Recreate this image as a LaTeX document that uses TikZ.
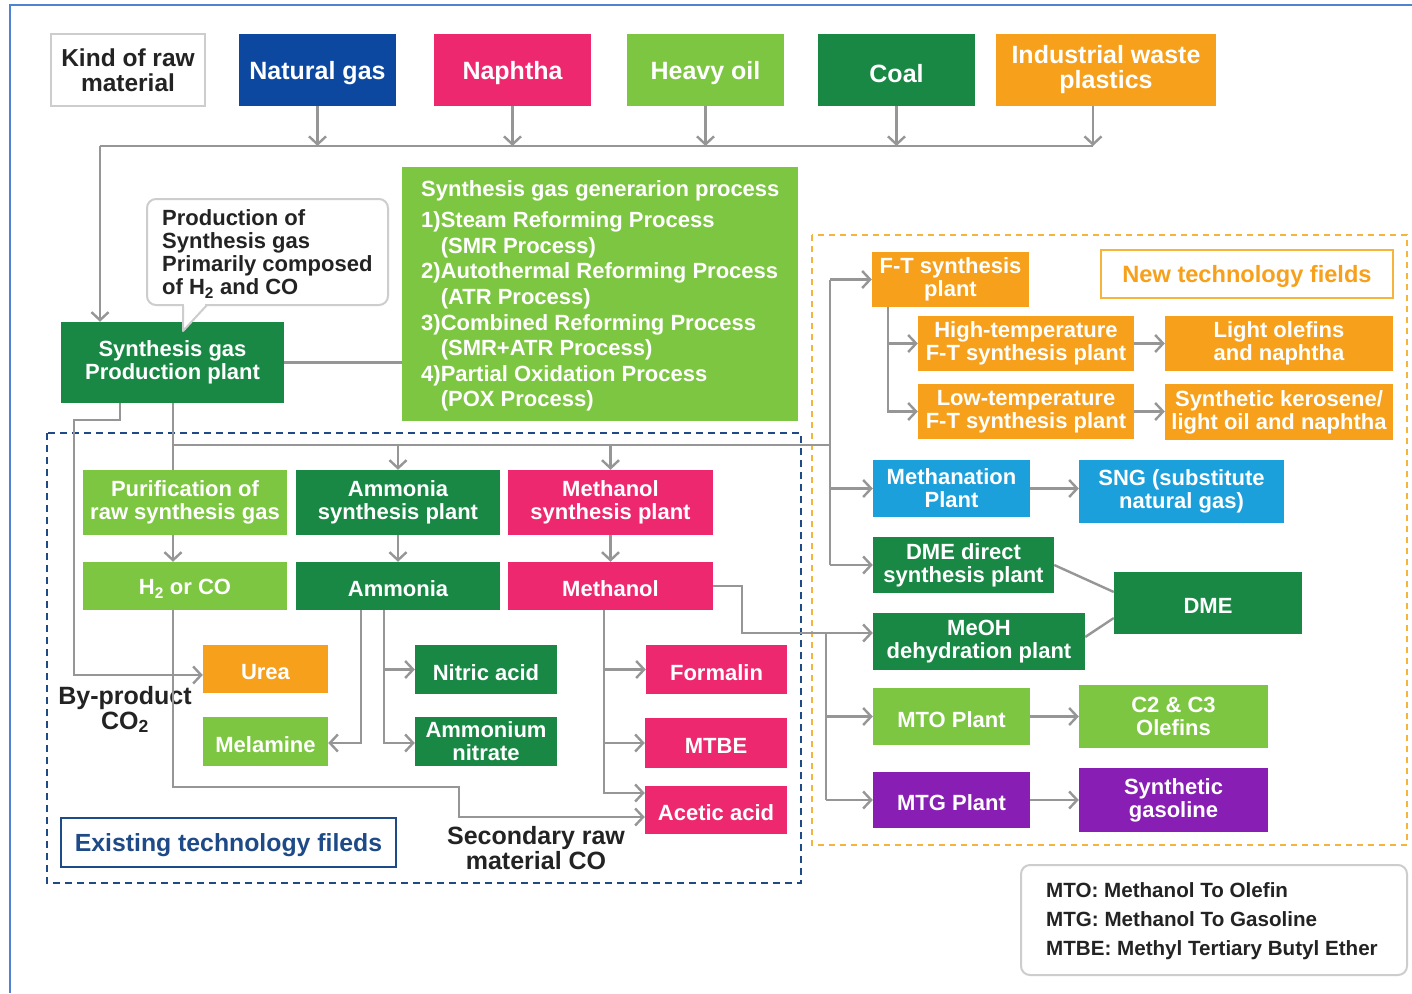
\documentclass[tikz,border=0pt]{standalone}
\usepackage{fontspec}
\setmainfont{Liberation Sans}
\usetikzlibrary{arrows.meta,calc}
\definecolor{cNavy}{RGB}{12,72,160}
\definecolor{cPink}{RGB}{238,40,110}
\definecolor{cLG}{RGB}{125,198,66}
\definecolor{cDG}{RGB}{24,136,68}
\definecolor{cOr}{RGB}{246,160,28}
\definecolor{cCy}{RGB}{28,160,220}
\definecolor{cPu}{RGB}{136,30,180}
\definecolor{cLine}{RGB}{150,150,150}
\definecolor{cFrame}{RGB}{80,130,210}
\definecolor{cExist}{RGB}{30,75,135}
\definecolor{cNewBd}{RGB}{245,180,60}
\definecolor{cText}{RGB}{35,35,35}
\definecolor{cBorder}{RGB}{205,205,205}
\begin{document}
\begin{tikzpicture}[x=1pt,y=-1pt,
  bx/.style={rectangle, fill=#1, inner sep=0pt, align=center, text=white,
    font=\fontsize{22}{23}\selectfont\bfseries, execute at begin node={\rule{0pt}{21.5pt}}},
  topbx/.style={bx=#1, minimum height=72pt, font=\fontsize{25}{25}\selectfont\bfseries,
    execute at begin node={\rule{0pt}{25pt}}},
  conn/.style={draw=cLine, line width=2.4pt},
  arr/.style={conn, -{Straight Barb[length=8pt,width=17pt]}},
  plain/.style={inner sep=0pt, align=center, text=cText, font=\fontsize{25}{25}\selectfont\bfseries}]
\useasboundingbox (0,0) rectangle (1412,993);
\fill[white] (0,0) rectangle (1412,993);
\draw[cFrame, line width=2pt] (10,993) -- (10,5) -- (1412,5);

% regions
\draw[cExist, line width=2.4pt, dash pattern=on 7pt off 5pt] (47,433) rectangle (801,883);
\draw[cNewBd, line width=2pt, dash pattern=on 6pt off 5pt] (812,235) rectangle (1407,845);

% top row
\node[rectangle, draw=cBorder, line width=2pt, fill=white, minimum width=154pt, minimum height=72pt,
  align=center, text=cText, font=\fontsize{24.5}{25}\selectfont\bfseries,
  execute at begin node={\rule{0pt}{24pt}}] (kind) at (128,70) {Kind of raw\\material};
\node[topbx=cNavy, minimum width=157pt] (ng) at (317.5,70) {Natural gas};
\node[topbx=cPink, minimum width=157pt] (nap) at (512.5,70) {Naphtha};
\node[topbx=cLG, minimum width=157pt] (ho) at (705.5,70) {Heavy oil};
\node[topbx=cDG, minimum width=157pt] (coal) at (896.5,70) {Coal};
\node[topbx=cOr, minimum width=220pt] (iwp) at (1106,70) {Industrial waste\\plastics};

% synthesis gas plant, callout, process
\node[bx=cDG, minimum width=223pt, minimum height=81pt] (sgp) at (172.5,362.5) {Synthesis gas\\Production plant};
\node[rectangle, rounded corners=9pt, draw=cBorder, line width=2pt, fill=white,
  minimum width=241pt, minimum height=106pt] (call) at (267.5,252) {};
\filldraw[draw=cBorder, fill=white, line width=2pt, line join=round] (183,305) -- (183,331) -- (207,305);
\draw[white, line width=2.6pt] (184.3,305) -- (205,305);
\node[anchor=west, align=left, inner sep=0pt, text=cText, font=\fontsize{22}{23}\selectfont\bfseries]
  (calltext) at (162,254) {Production of\\Synthesis gas\\Primarily composed\\of H\textsubscript{2} and CO};
\node[rectangle, fill=cLG, minimum width=396pt, minimum height=254pt, inner sep=0pt] (proc) at (600,294) {};
\node[anchor=north west, align=left, inner sep=0pt, text=white, font=\fontsize{22}{25.6}\selectfont\bfseries]
  (proctext) at (421,180) {Synthesis gas generarion process\\[6pt]
  1)Steam Reforming Process\\\hphantom{1)}(SMR Process)\\
  2)Autothermal Reforming Process\\\hphantom{2)}(ATR Process)\\
  3)Combined Reforming Process\\\hphantom{3)}(SMR+ATR Process)\\
  4)Partial Oxidation Process\\\hphantom{4)}(POX Process)};

% existing technology boxes
\node[bx=cLG, minimum width=204pt, minimum height=65pt] (purif) at (185,502.5) {Purification of\\raw synthesis gas};
\node[bx=cDG, minimum width=204pt, minimum height=65pt] (amsp) at (398,502.5) {Ammonia\\synthesis plant};
\node[bx=cPink, minimum width=205pt, minimum height=65pt] (mesp) at (610.5,502.5) {Methanol\\synthesis plant};
\node[bx=cLG, minimum width=204pt, minimum height=48pt] (h2co) at (185,586) {H\textsubscript{2} or CO};
\node[bx=cDG, minimum width=204pt, minimum height=48pt] (amm) at (398,586) {Ammonia};
\node[bx=cPink, minimum width=205pt, minimum height=48pt] (meoh) at (610.5,586) {Methanol};
\node[bx=cOr, minimum width=125pt, minimum height=48pt] (urea) at (265.5,669) {Urea};
\node[bx=cDG, minimum width=142pt, minimum height=49pt] (nitric) at (486,669.5) {Nitric acid};
\node[bx=cPink, minimum width=141pt, minimum height=49pt] (formalin) at (716.5,669.5) {Formalin};
\node[bx=cLG, minimum width=125pt, minimum height=49pt] (melamine) at (265.5,741.5) {Melamine};
\node[bx=cDG, minimum width=142pt, minimum height=49pt] (an) at (486,741.5) {Ammonium\\nitrate};
\node[bx=cPink, minimum width=142pt, minimum height=50pt] (mtbe) at (716,743) {MTBE};
\node[bx=cPink, minimum width=142pt, minimum height=48pt] (acetic) at (716,810) {Acetic acid};
\node[rectangle, draw=cExist, line width=2.4pt, fill=white, minimum width=335pt, minimum height=49pt,
  text=cExist, font=\fontsize{24.8}{25}\selectfont\bfseries,
  execute at begin node={\rule{0pt}{23pt}}] (exist) at (228.5,842.5) {Existing technology fileds};
\node[plain] (byp) at (125,709.5) {By-product\\CO\textsubscript{2}};
\node[plain] (sec) at (536,848) {Secondary raw\\material CO};

% new technology boxes
\node[bx=cOr, minimum width=157pt, minimum height=55pt] (ft) at (950.5,279.5) {F-T synthesis\\plant};
\node[rectangle, draw=cNewBd, line width=2pt, fill=white, minimum width=292pt, minimum height=48pt,
  text=cOr, font=\fontsize{23.6}{25}\selectfont\bfseries,
  execute at begin node={\rule{0pt}{22.5pt}}] (newlab) at (1247,274) {New technology fields};
\node[bx=cOr, minimum width=216pt, minimum height=55pt] (ht) at (1026,343.5) {High-temperature\\F-T synthesis plant};
\node[bx=cOr, minimum width=228pt, minimum height=55pt] (lo) at (1279,343.5) {Light olefins\\and naphtha};
\node[bx=cOr, minimum width=216pt, minimum height=55pt] (lt) at (1026,411.5) {Low-temperature\\F-T synthesis plant};
\node[bx=cOr, minimum width=228pt, minimum height=56pt] (sk) at (1279,412) {Synthetic kerosene/\\light oil and naphtha};
\node[bx=cCy, minimum width=157pt, minimum height=57pt] (meth) at (951.5,488.5) {Methanation\\Plant};
\node[bx=cCy, minimum width=205pt, minimum height=63pt] (sng) at (1181.5,491.5) {SNG (substitute\\natural gas)};
\node[bx=cDG, minimum width=181pt, minimum height=56pt] (dmed) at (963.5,565) {DME direct\\synthesis plant};
\node[bx=cDG, minimum width=188pt, minimum height=62pt] (dme) at (1208,603) {DME};
\node[bx=cDG, minimum width=212pt, minimum height=57pt] (mdh) at (979,641.5) {MeOH\\dehydration plant};
\node[bx=cLG, minimum width=157pt, minimum height=57pt] (mto) at (951.5,716.5) {MTO Plant};
\node[bx=cLG, minimum width=189pt, minimum height=63pt] (c2c3) at (1173.5,716.5) {C2 \& C3\\Olefins};
\node[bx=cPu, minimum width=157pt, minimum height=56pt] (mtg) at (951.5,800) {MTG Plant};
\node[bx=cPu, minimum width=189pt, minimum height=64pt] (sg) at (1173.5,800) {Synthetic\\gasoline};

% legend
\node[rectangle, rounded corners=9pt, draw=cBorder, line width=2pt, fill=white,
  minimum width=386pt, minimum height=110pt] (legend) at (1214,920) {};
\node[anchor=west, align=left, inner sep=0pt, text=cText, font=\fontsize{20.6}{29}\selectfont\bfseries]
  (legtext) at (1046,921) {MTO: Methanol To Olefin\\MTG: Methanol To Gasoline\\MTBE: Methyl Tertiary Butyl Ether};

% connectors: raw materials bus
\coordinate (bL) at (100,146);
\coordinate (bR) at (1093,146);
\draw[conn] (bL) -- (bR);
\draw[arr] (bL) -- (bL |- sgp.north);
\foreach \n in {ng,nap,ho,coal} \draw[arr] (\n.south) -- (\n.south |- bL);
\draw[arr] (iwp.south -| bR) -- (bR);
\draw[conn] (sgp.east) -- (proc.west |- sgp.east);

% left side
\coordinate (a120) at (120,420);
\coordinate (a74) at (74,420);
\draw[arr] (sgp.south -| a120) -- (a120) -- (a74) -- ($(a74 |- urea.west)+(0,6)$) -- ($(urea.west)+(0,6)$);
\coordinate (x173) at (173,445);
\coordinate (x830) at (830,445);
\draw[conn] (sgp.south -| x173) -- (purif.north -| x173);
\draw[conn] (x173) -- (x830);
\draw[arr] (amsp.north |- x173) -- (amsp.north);
\draw[arr] (mesp.north |- x173) -- (mesp.north);
\draw[arr] (purif.south -| x173) -- (h2co.north -| x173);
\coordinate (c787) at (173,787);
\coordinate (c459) at (459,787);
\draw[arr] (h2co.south -| x173) -- (c787) -- (c459) -- ($(c459 |- acetic.west)+(0,7)$) -- ($(acetic.west)+(0,7)$);
\draw[arr] (amsp.south) -- (amm.north);
\draw[arr] (mesp.south) -- (meoh.north);
\coordinate (a361) at (361,743);
\coordinate (a384) at (384,743);
\draw[arr] (amm.south -| a361) -- (a361) -- (melamine.east |- a361);
\draw[arr] (amm.south -| a384) -- (a384) -- (an.west |- a384);
\draw[arr] (a384 |- nitric.west) -- (nitric.west);
\coordinate (m604) at (604,793);
\draw[arr] (meoh.south -| m604) -- (m604) -- (acetic.west |- m604);
\draw[arr] (m604 |- formalin.west) -- (formalin.west);
\draw[arr] (m604 |- mtbe.west) -- (mtbe.west);

% to new technology
\draw[conn] (x830 |- ft.west) -- (x830 |- dmed.west);
\draw[arr] (x830 |- ft.west) -- (ft.west);
\draw[arr] (x830 |- meth.west) -- (meth.west);
\draw[arr] (x830 |- dmed.west) -- (dmed.west);
\coordinate (m742) at (742,633);
\coordinate (m826) at (826,633);
\draw[arr] (meoh.east) -| (m742) -- (mdh.west |- m742);
\draw[conn] (m826) -- (m826 |- mtg.west);
\draw[arr] (m826 |- mto.west) -- (mto.west);
\draw[arr] (m826 |- mtg.west) -- (mtg.west);
\coordinate (f888) at (888,412);
\draw[arr] (ft.south -| f888) -- (f888 |- lt.west) -- (lt.west);
\draw[arr] (f888 |- ht.west) -- (ht.west);
\draw[arr] (ht.east) -- (lo.west);
\draw[arr] (lt.east) -- (sk.west |- lt.east);
\draw[arr] (meth.east) -- (sng.west |- meth.east);
\draw[conn] (dmed.east) -- ($(dme.west)+(0,-11)$);
\draw[conn] ($(mdh.east)+(0,-4.5)$) -- ($(dme.west)+(0,15)$);
\draw[arr] (mto.east) -- (c2c3.west |- mto.east);
\draw[arr] (mtg.east) -- (sg.west |- mtg.east);
\end{tikzpicture}
\end{document}
